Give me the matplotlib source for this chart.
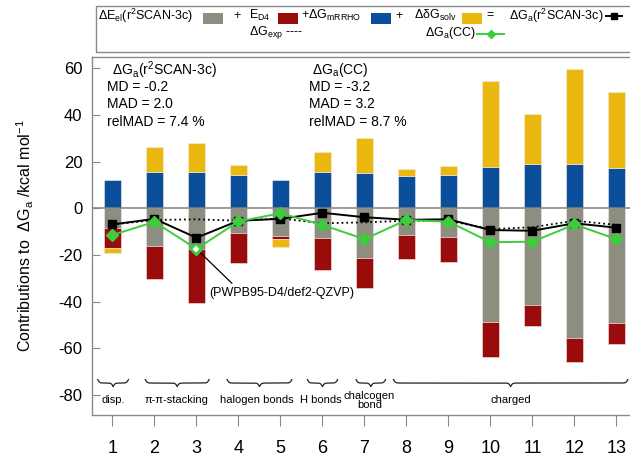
import numpy as np
import matplotlib
matplotlib.use('Agg')
import matplotlib.pyplot as plt
from matplotlib.patches import Rectangle
from matplotlib.lines import Line2D

plt.rcParams['font.family'] = ['Liberation Sans', 'DejaVu Sans']
plt.rcParams['mathtext.fontset'] = 'custom'
plt.rcParams['mathtext.rm'] = 'Liberation Sans'
plt.rcParams['mathtext.it'] = 'Liberation Sans:italic'
plt.rcParams['axes.unicode_minus'] = False

# data (kcal/mol)
systems = np.arange(1, 14)
el = np.array([-8.3, -16.2, -17.6, -10.4, -11.7, -12.6, -21.2, -11.4, -12.4, -48.6, -41.4, -55.7, -49.3])
d4 = np.array([-8.6, -14.2, -23.1, -13.2, -1.5, -13.8, -12.8, -10.5, -10.6, -15.0, -8.9, -10.2, -9.0])
mrrho = np.array([12.1, 15.4, 15.4, 14.3, 12.1, 15.4, 15.3, 14.0, 14.3, 17.6, 19.0, 18.9, 17.4])
solv = np.array([-2.1, 10.7, 12.7, 4.3, -3.5, 8.9, 14.7, 2.8, 3.8, 37.0, 21.4, 40.8, 32.3])
dg_r2scan = [-6.9, -4.5, -12.6, -5.3, -4.5, -1.9, -3.8, -4.9, -4.7, -9.3, -9.6, -6.4, -8.3]
dg_cc = [-11.4, -5.8, -17.4, -5.6, -2.1, -7.1, -13.2, -5.0, -5.7, -14.5, -14.3, -6.9, -13.2]
dg_exp = [-6.9, -5.0, -4.7, -5.3, -4.3, -6.4, -6.0, -5.3, -5.3, -8.9, -8.1, -5.3, -7.1]

groups = ['disp.', 'π-π-stacking', 'halogen bonds', 'H bonds', 'chalcogen\nbond', 'charged']
group_span = [(0.65, 1.38), (1.78, 3.3), (3.73, 5.27), (5.64, 6.36), (6.8, 7.5), (7.69, 13.27)]
group_center = [1.02, 2.52, 4.43, 5.96, 7.12, 10.48]

c_gray = '#8d8d80'
c_red = '#9a0b0b'
c_blue = '#0b4f9b'
c_yellow = '#eab80f'
c_green = '#3ccc3c'
c_frame = '#8a8a8a'

W, H = 630, 458
fig = plt.figure(figsize=(6.3, 4.58), dpi=100)
ax = fig.add_axes([92 / W, 1 - 415 / H, 548 / W, 358 / H])

bw = 0.39
kw = dict(width=bw, edgecolor='#f2eaea', linewidth=0.4, zorder=2)
ax.bar(systems, el, color=c_gray, **kw)
ax.bar(systems, d4, bottom=el, color=c_red, **kw)
ax.bar(systems, mrrho, color=c_blue, **kw)
solv_bottom = np.where(solv >= 0, mrrho, el + d4)
ax.bar(systems, solv, bottom=solv_bottom, color=c_yellow, **kw)

ax.axhline(0, color='#808080', lw=1.1, zorder=3)

ax.plot(systems, dg_exp, ls=':', color='k', lw=1.3, zorder=4)
ax.plot(systems, dg_r2scan, color='k', lw=1.4, marker='s', ms=5.5, zorder=5)
ax.plot(systems, dg_cc, color=c_green, lw=1.4, marker='D', ms=6.5, zorder=6)
ax.plot(systems[2], dg_cc[2], ls='none', marker='D', ms=5.5, mfc='white', mec=c_green, mew=1.6, zorder=7)

ax.annotate('(PWPB95-D4/def2-QZVP)', xy=(systems[2], dg_cc[2]), xytext=(5.04, -36.3),
            fontsize=9, ha='center', va='center',
            arrowprops=dict(arrowstyle='-', color='k', lw=0.9, relpos=(0.18, 1.0),
                            shrinkA=1, shrinkB=4))

# curly braces for the groups
def brace(x0, x1, ytop, h, beta=45.0):
    x = np.linspace(x0, x1, 401)
    xh = x[:201]
    yh = 1 / (1 + np.exp(-beta * (xh - xh[0]))) + 1 / (1 + np.exp(-beta * (xh - xh[-1])))
    yc = np.concatenate((yh, yh[-2::-1]))
    ax.plot(x, ytop - h * (yc - 0.5), color='#222222', lw=0.9, zorder=3)

for (a, b), cx, lab in zip(group_span, group_center, groups):
    brace(a, b, -73.4, 3.0)
    ax.text(cx, -82.3, lab, ha='center', va='center', fontsize=8, linespacing=0.85)

ax.set_xlim(0.512, 13.56)
ax.set_ylim(-88.6, 64.9)
ax.set_yticks(np.arange(-80, 61, 20))
ax.set_xticks(systems)
ax.tick_params(axis='y', direction='in', length=6, color=c_frame, labelsize=12, pad=7)
ax.tick_params(axis='x', direction='out', length=8, color=c_frame, labelsize=13, pad=10)
for s in ax.spines.values():
    s.set_color(c_frame)
    s.set_linewidth(1)

ax.set_ylabel('Contributions to  ΔG$_{\\rm a}$ /kcal mol$^{-1}$', fontsize=11.5)
ax.yaxis.set_label_coords(-0.102, 0.5)

# statistics
stats1 = ['MD = -0.2', 'MAD = 2.0', 'relMAD = 7.4 %']
stats2 = ['MD = -3.2', 'MAD = 3.2', 'relMAD = 8.7 %']
rows = [0.9154, 0.8679, 0.8193]
ax.text(0.0365, 0.9637, 'ΔG$_{\\rm a}$(r$^2$SCAN-3c)', transform=ax.transAxes, fontsize=10, va='center')
ax.text(0.4009, 0.9637, 'ΔG$_{\\rm a}$(CC)', transform=ax.transAxes, fontsize=10, va='center')
for yy, t1, t2 in zip(rows, stats1, stats2):
    ax.text(0.0274, yy, t1, transform=ax.transAxes, fontsize=10, va='center')
    ax.text(0.3966, yy, t2, transform=ax.transAxes, fontsize=10, va='center')

# legend box above the axes
def fx(p):
    return p / W

def fy(p):
    return 1 - p / H

fig.add_artist(Rectangle((fx(96), fy(52)), fx(560), (52 - 6) / H, transform=fig.transFigure,
                         fill=False, edgecolor=c_frame, lw=1))
r1, r2 = 15.5, 33
lt = dict(fontsize=9, va='center', transform=fig.transFigure)
fig.text(fx(97.6), fy(r1), 'ΔE$_{\\rm el}$(r$^2$SCAN-3c)', **lt)
fig.text(fx(236.6), fy(r1), '+', ha='center', **lt)
fig.text(fx(248.6), fy(r1), 'E$_{\\rm D4}$', **lt)
fig.text(fx(301), fy(r1), '+ΔG$_{\\rm mRRHO}$', **lt)
fig.text(fx(398.6), fy(r1), '+', ha='center', **lt)
fig.text(fx(414), fy(r1), 'ΔδG$_{\\rm solv}$', **lt)
fig.text(fx(490), fy(r1), '=', ha='center', **lt)
fig.text(fx(509), fy(r1), 'ΔG$_{\\rm a}$(r$^2$SCAN-3c)', **lt)
fig.text(fx(249.3), fy(r2), 'ΔG$_{\\rm exp}$ ----', **lt)
fig.text(fx(424.5), fy(r2), 'ΔG$_{\\rm a}$(CC)', **lt)
for x0, col in [(203.1, c_gray), (277.9, c_red), (371, c_blue), (461.7, c_yellow)]:
    fig.add_artist(Rectangle((fx(x0), fy(24)), fx(20), 11.5 / H, transform=fig.transFigure,
                             facecolor=col, edgecolor='none'))
fig.add_artist(Line2D([fx(606), fx(622)], [fy(16), fy(16)], transform=fig.transFigure, color='k', lw=1.4))
fig.add_artist(Line2D([fx(614)], [fy(16)], transform=fig.transFigure, color='k', marker='s', ms=4.5))
fig.add_artist(Line2D([fx(477), fx(504)], [fy(34), fy(34)], transform=fig.transFigure, color=c_green, lw=1.4))
fig.add_artist(Line2D([fx(490.5)], [fy(34)], transform=fig.transFigure, color=c_green, marker='D', ms=4.5))

fig.savefig('out.png', dpi=100)
